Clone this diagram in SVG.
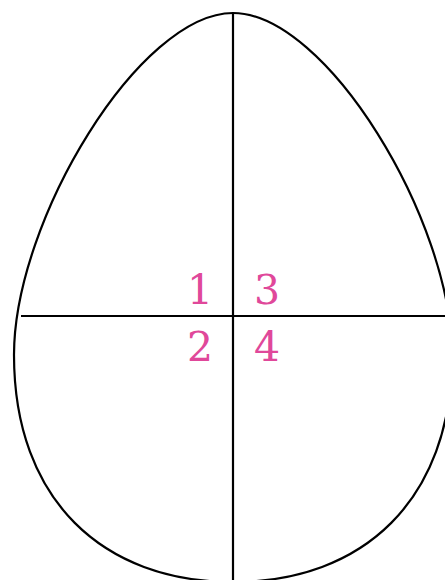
<svg xmlns="http://www.w3.org/2000/svg" width="445" height="580" viewBox="0 0 445 580">
<style>
.ln{fill:none;stroke:#000;stroke-width:2.2}
.lbl{font-family:"DejaVu Serif","Liberation Serif",serif;font-size:41px;fill:#e0489a;text-anchor:middle}
</style>
<rect width="445" height="580" fill="#fff"/>
<g id="egg">
<path class="ln" d="M233,13 C326,13 452,220 452,355 C452,500 363,582 233,582 C103,582 14,500 14,355 C14,220 140,13 233,13 Z"/>
</g>
<g id="connectors">
<line class="ln" x1="21" y1="316" x2="445" y2="316"/>
<line class="ln" x1="233" y1="13" x2="233" y2="580"/>
</g>
<g id="labels">
<text class="lbl" x="200" y="304">1</text>
<text class="lbl" x="267" y="304">3</text>
<text class="lbl" x="200" y="361">2</text>
<text class="lbl" x="267" y="361">4</text>
</g>
</svg>
